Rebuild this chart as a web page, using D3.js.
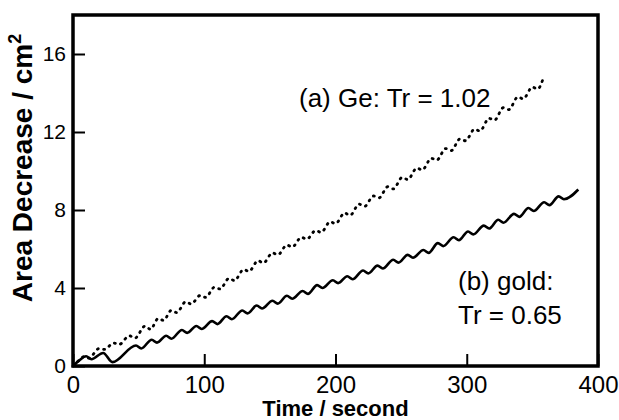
<!DOCTYPE html>
<html lang="en">
<head>
<meta charset="utf-8">
<title>Area Decrease vs Time</title>
<script src="https://d3js.org/d3.v7.min.js"></script>
<style>
  body { margin: 0; background: #fff; }
  svg { display: block; }
  .tick text { font-family: Arial, "Liberation Sans", sans-serif; fill: #000; }
  .title { font-family: Arial, "Liberation Sans", sans-serif; font-weight: bold; fill: #000; }
  .note { font-family: Arial, "Liberation Sans", sans-serif; fill: #000; font-size: 26px; }
</style>
</head>
<body>
<svg width="619" height="420"></svg>
<script>
// (a) Ge, dotted curve: time (s) and area decrease (cm^2)
const geTime = [0, 4, 9, 12, 20, 24, 31, 35, 43, 47, 55, 59, 65, 69, 75, 79, 86, 90, 97, 101,
  108, 112, 119, 123, 130, 134, 141, 145, 152, 156, 163, 167, 174, 178, 185, 189, 196, 200,
  207, 211, 218, 222, 229, 233, 240, 244, 251, 255, 262, 266, 273, 277, 284, 288, 295, 299,
  306, 310, 317, 321, 328, 332, 339, 343, 350, 354, 358];
const geArea = [0, 0.25, 0.5, 0.4, 0.9, 0.85, 1.18, 1.1, 1.55, 1.42, 2.05, 1.88, 2.44, 2.34, 2.86, 2.74, 3.3, 3.18, 3.62, 3.52,
  4.05, 3.95, 4.5, 4.38, 4.95, 4.85, 5.4, 5.28, 5.8, 5.7, 6.2, 6.1, 6.6, 6.5, 6.95, 6.85, 7.4, 7.3,
  7.85, 7.72, 8.3, 8.18, 8.72, 8.62, 9.2, 9.08, 9.68, 9.56, 10.15, 10.05, 10.65, 10.55, 11.15, 11.04, 11.65, 11.55,
  12.15, 12.05, 12.7, 12.6, 13.25, 13.15, 13.8, 13.7, 14.3, 14.2, 14.7];

// (b) gold, solid curve
const goldTime = [0, 5, 10, 14, 23, 30, 48, 52, 60, 64, 71, 75, 83, 87, 94, 98, 106, 110,
  117, 121, 129, 133, 140, 144, 152, 156, 163, 167, 175, 179, 186, 190, 198, 202, 209, 213,
  221, 225, 232, 236, 244, 248, 255, 259, 267, 271, 278, 282, 290, 294, 301, 305, 313, 317,
  324, 328, 336, 340, 347, 351, 359, 363, 370, 374, 385];
const goldArea = [0, 0.3, 0.5, 0.35, 0.67, 0.2, 1.05, 0.9, 1.35, 1.2, 1.55, 1.4, 1.85, 1.7, 2.05, 1.9, 2.3, 2.15,
  2.55, 2.4, 2.85, 2.7, 3.1, 2.95, 3.35, 3.2, 3.6, 3.45, 3.85, 3.7, 4.15, 4.0, 4.4, 4.25, 4.6, 4.45,
  4.9, 4.75, 5.15, 5.0, 5.45, 5.3, 5.7, 5.55, 5.95, 5.8, 6.3, 6.15, 6.6, 6.45, 6.9, 6.75, 7.2, 7.05,
  7.5, 7.35, 7.8, 7.65, 8.1, 7.95, 8.4, 8.25, 8.7, 8.55, 9.05];

const xTicks = [0, 100, 200, 300, 400];
const yTicks = [0, 4, 8, 12, 16];

const svg = d3.select("svg");

const x = d3.scaleLinear().domain([0, 400]).range([73, 598]);
const y = d3.scaleLinear().domain([0, 18]).range([366, 15]);

// x axis, ticks point inward
const xAxis = svg.append("g")
    .attr("transform", "translate(0," + y(0) + ")")
    .call(d3.axisBottom(x).tickValues(xTicks).tickSizeInner(-12).tickSizeOuter(0).tickPadding(10));
xAxis.select(".domain").remove();
xAxis.selectAll("line").attr("stroke", "#000").attr("stroke-width", 2);
xAxis.selectAll("text").style("font-size", "24px");

// y axis
const yAxis = svg.append("g")
    .attr("transform", "translate(" + x(0) + ",0)")
    .call(d3.axisLeft(y).tickValues(yTicks).tickSizeInner(-12).tickSizeOuter(0).tickPadding(7));
yAxis.select(".domain").remove();
yAxis.selectAll("line").attr("stroke", "#000").attr("stroke-width", 2);
yAxis.selectAll("text").style("font-size", "21px");

// frame
svg.append("rect")
    .attr("x", x(0))
    .attr("y", y(18))
    .attr("width", x(400) - x(0))
    .attr("height", y(0) - y(18))
    .attr("fill", "none")
    .attr("stroke", "#000")
    .attr("stroke-width", 3.5);

const line = d3.line()
    .curve(d3.curveMonotoneX)
    .x(d => x(d[0]))
    .y(d => y(d[1]));

// dotted Ge curve
svg.append("path")
    .attr("d", line(d3.zip(geTime, geArea)))
    .attr("fill", "none")
    .attr("stroke", "#000")
    .attr("stroke-width", 2.8)
    .attr("stroke-linecap", "round")
    .attr("stroke-dasharray", "1,5.5");

// solid gold curve
svg.append("path")
    .attr("d", line(d3.zip(goldTime, goldArea)))
    .attr("fill", "none")
    .attr("stroke", "#000")
    .attr("stroke-width", 2.6)
    .attr("stroke-linejoin", "round");

// axis titles
svg.append("text")
    .attr("class", "title")
    .attr("x", (x(0) + x(400)) / 2)
    .attr("y", 416)
    .attr("text-anchor", "middle")
    .style("font-size", "22px")
    .text("Time / second");

const yt = svg.append("text")
    .attr("class", "title")
    .attr("transform", "translate(32,168) rotate(-90)")
    .attr("text-anchor", "middle")
    .style("font-size", "28px");
yt.append("tspan").text("Area Decrease / cm");
yt.append("tspan").attr("dy", -11).style("font-size", "18px").text("2");

// labels
svg.append("text").attr("class", "note").attr("x", 299).attr("y", 107).text("(a) Ge: Tr = 1.02");
svg.append("text").attr("class", "note").attr("x", 458).attr("y", 290).text("(b) gold:");
svg.append("text").attr("class", "note").attr("x", 458).attr("y", 324).text("Tr = 0.65");
</script>
</body>
</html>
